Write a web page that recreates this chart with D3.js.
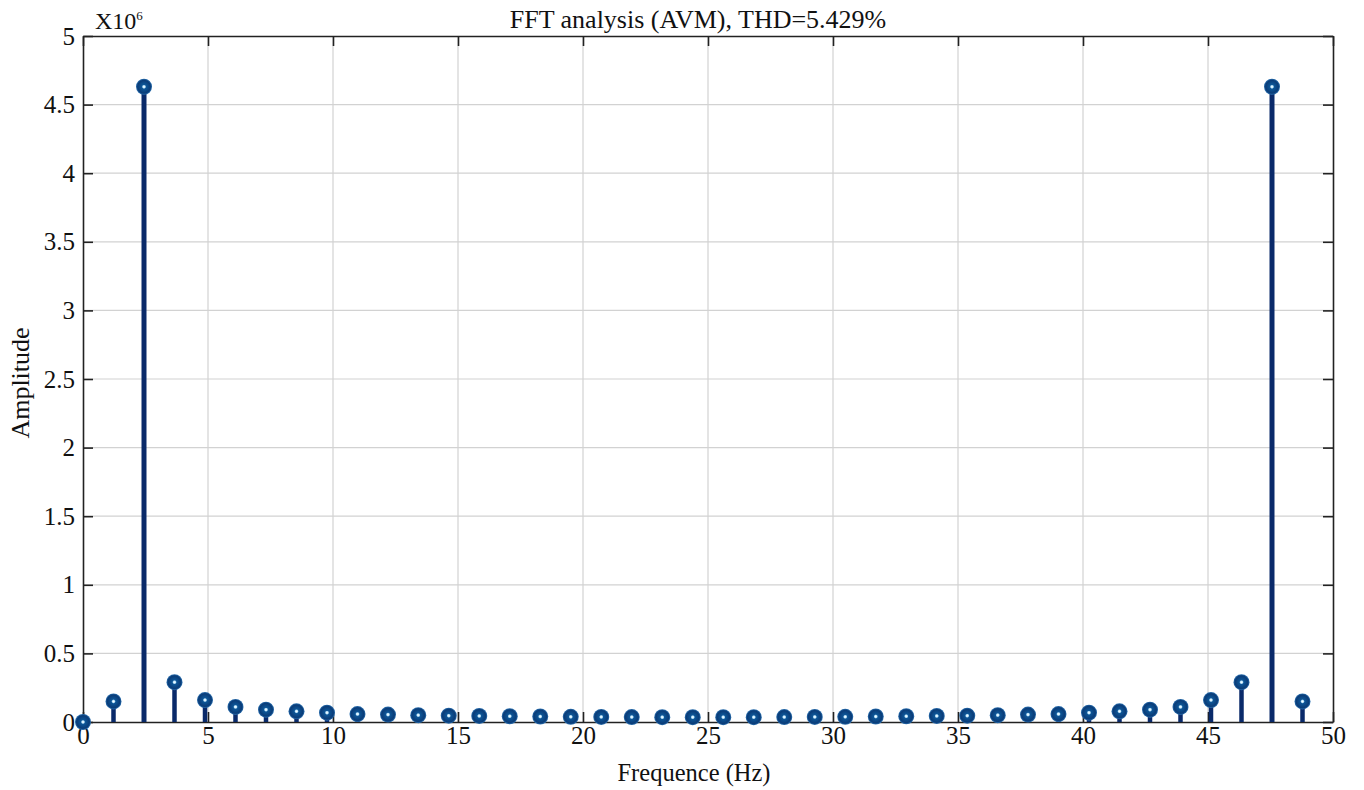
<!DOCTYPE html>
<html>
<head>
<meta charset="utf-8">
<script src="https://cdn.jsdelivr.net/npm/d3@7"></script>
<style>
  body { margin: 0; background: #fff; }
  text { font-family: "Liberation Serif", "DejaVu Serif", serif; fill: #111; }
</style>
</head>
<body>
<div id="chart"></div>
<script>
// frequencies (Hz)
const freqs = [0, 1.22, 2.44, 3.66, 4.88, 6.10, 7.32, 8.54, 9.76, 10.98,
  12.20, 13.41, 14.63, 15.85, 17.07, 18.29, 19.51, 20.73, 21.95, 23.17,
  24.39, 25.61, 26.83, 28.05, 29.27, 30.49, 31.71, 32.93, 34.15, 35.37,
  36.59, 37.80, 39.02, 40.24, 41.46, 42.68, 43.90, 45.12, 46.34, 47.56, 48.78]
// amplitudes in units of 10^6
const amps = [0, 0.15, 4.63, 0.29, 0.16, 0.11, 0.09, 0.078, 0.068, 0.058,
  0.054, 0.05, 0.046, 0.044, 0.042, 0.04, 0.038, 0.037, 0.036, 0.035,
  0.035, 0.035, 0.035, 0.036, 0.037, 0.038, 0.04, 0.042, 0.044, 0.046,
  0.05, 0.054, 0.058, 0.068, 0.078, 0.09, 0.11, 0.16, 0.29, 4.63, 0.15]
const xTicks = [0, 5, 10, 15, 20, 25, 30, 35, 40, 45, 50]
const yTicks = [0, 0.5, 1, 1.5, 2, 2.5, 3, 3.5, 4, 4.5, 5]

const width = 1364, height = 790
const margin = {top: 36, right: 31, bottom: 68, left: 83}
const iw = width - margin.left - margin.right
const ih = height - margin.top - margin.bottom
const serif = '"Liberation Serif", "DejaVu Serif", serif'

const svg = d3.select('#chart').append('svg')
  .attr('width', width).attr('height', height)
const g = svg.append('g').attr('transform', `translate(${margin.left},${margin.top})`)

const x = d3.scaleLinear().domain([0, 50]).range([0, iw])
const y = d3.scaleLinear().domain([0, 5]).range([ih, 0])

// grid
g.append('g').selectAll('line').data(xTicks.slice(1, -1)).join('line')
  .attr('x1', d => x(d)).attr('x2', d => x(d)).attr('y1', 0).attr('y2', ih)
  .attr('stroke', '#d2d2d2').attr('stroke-width', 1.2)
g.append('g').selectAll('line').data(yTicks.slice(1, -1)).join('line')
  .attr('y1', d => y(d)).attr('y2', d => y(d)).attr('x1', 0).attr('x2', iw)
  .attr('stroke', '#d2d2d2').attr('stroke-width', 1.2)

// axes (inward ticks on all four sides)
const fmt = d => d3.format('')(d)
const styleAxis = sel => {
  sel.attr('font-family', serif).attr('font-size', 25)
  sel.select('.domain').attr('stroke', '#222').attr('stroke-width', 1.6)
  sel.selectAll('.tick line').attr('stroke', '#222').attr('stroke-width', 1.6)
  sel.selectAll('.tick text').attr('fill', '#111')
}
g.append('g').attr('transform', `translate(0,${ih})`)
  .call(d3.axisBottom(x).tickValues(xTicks).tickFormat(fmt).tickSizeInner(-10).tickSizeOuter(0).tickPadding(4))
  .call(styleAxis)
g.append('g')
  .call(d3.axisTop(x).tickValues(xTicks).tickFormat('').tickSizeInner(-10).tickSizeOuter(0))
  .call(styleAxis)
g.append('g')
  .call(d3.axisLeft(y).tickValues(yTicks).tickFormat(fmt).tickSizeInner(-10).tickSizeOuter(0).tickPadding(8))
  .call(styleAxis)
g.append('g').attr('transform', `translate(${iw},0)`)
  .call(d3.axisRight(y).tickValues(yTicks).tickFormat('').tickSizeInner(-10).tickSizeOuter(0))
  .call(styleAxis)

// stems
const data = freqs.map((f, i) => ({f, a: amps[i]}))
g.append('g').selectAll('line').data(data).join('line')
  .attr('x1', d => x(d.f)).attr('x2', d => x(d.f))
  .attr('y1', y(0)).attr('y2', d => y(d.a))
  .attr('stroke', '#0a2a6a').attr('stroke-width', d => d.a > 1 ? 5 : 4.5)

// markers
const defs = svg.append('defs')
const grad = defs.append('radialGradient').attr('id', 'mk')
grad.append('stop').attr('offset', '0%').attr('stop-color', '#ffffff')
grad.append('stop').attr('offset', '14%').attr('stop-color', '#c8ecff')
grad.append('stop').attr('offset', '28%').attr('stop-color', '#0d5596')
grad.append('stop').attr('offset', '80%').attr('stop-color', '#0a3c78')
grad.append('stop').attr('offset', '100%').attr('stop-color', '#2a70b0')
g.append('g').selectAll('circle').data(data).join('circle')
  .attr('cx', d => x(d.f)).attr('cy', d => y(d.a)).attr('r', 8)
  .attr('fill', 'url(#mk)')

// texts
svg.append('text').attr('x', 698).attr('y', 28)
  .attr('text-anchor', 'middle').style('font-size', '26px')
  .text('FFT analysis (AVM), THD=5.429%')
const mult = svg.append('text').attr('x', 95).attr('y', 29).style('font-size', '24px')
mult.append('tspan').text('X10')
mult.append('tspan').attr('dy', -9).style('font-size', '13px').text('6')
svg.append('text').attr('x', 694).attr('y', 781)
  .attr('text-anchor', 'middle').style('font-size', '24.5px')
  .text('Frequence (Hz)')
svg.append('text').attr('transform', `translate(29,383) rotate(-90)`)
  .attr('text-anchor', 'middle').style('font-size', '26px')
  .text('Amplitude')
</script>
</body>
</html>
